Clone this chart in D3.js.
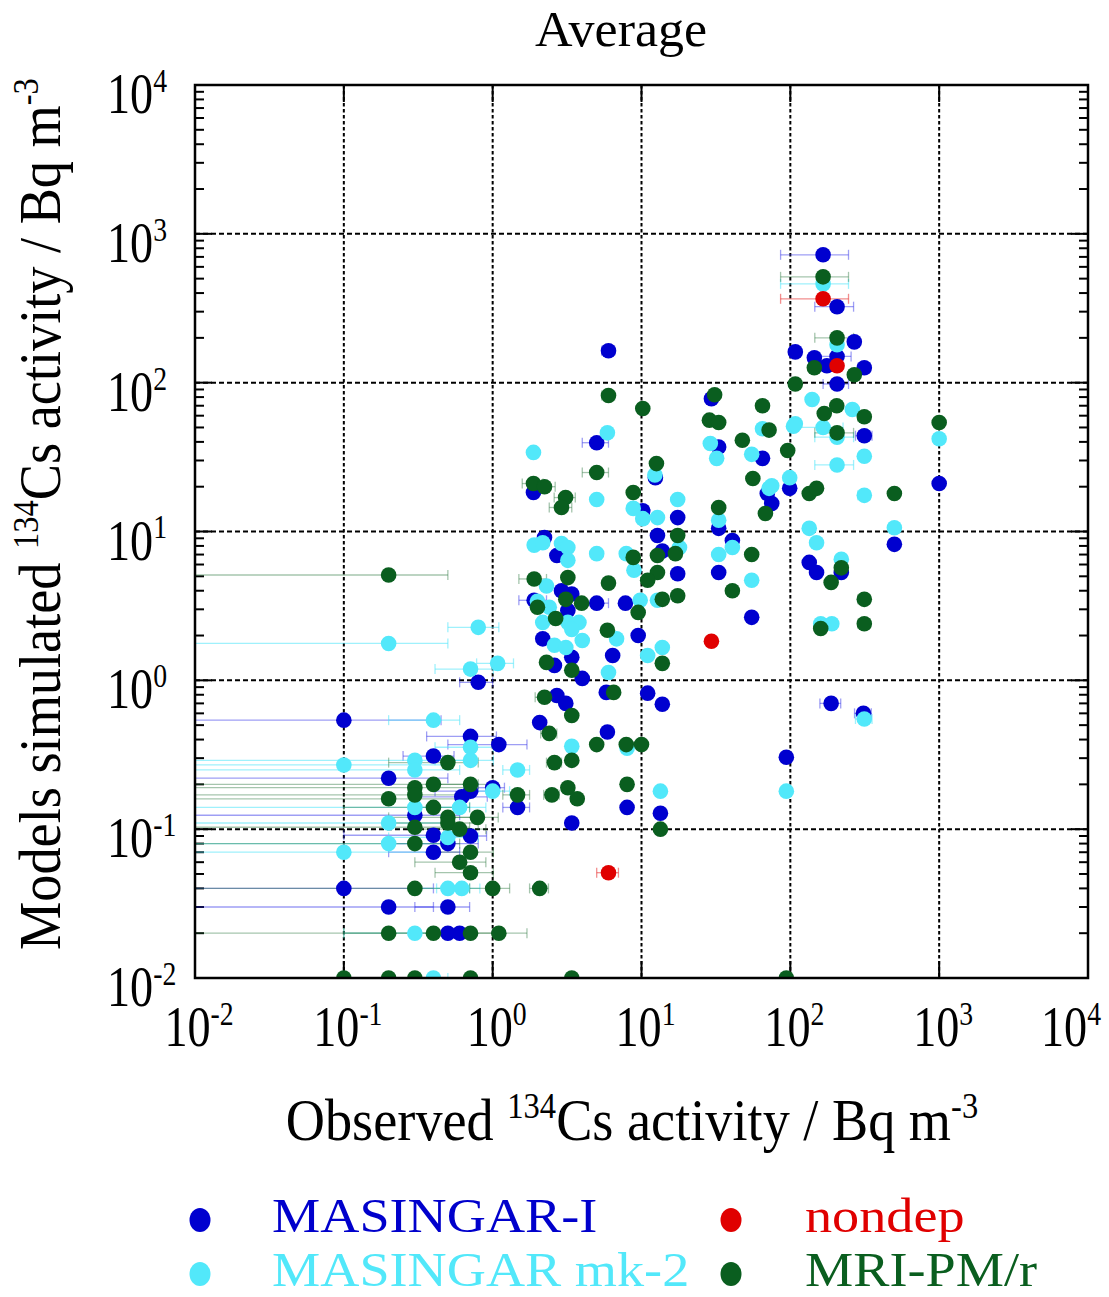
<!DOCTYPE html>
<html>
<head>
<meta charset="utf-8">
<title>Average</title>
<script src="https://d3js.org/d3.v7.min.js"></script>
<style>
body { margin: 0; background: #fff; }
svg text { font-family: "Liberation Serif", "Times New Roman", serif; }
</style>
</head>
<body>
<script>
// [observed, simulated, sd of observed]
var masingarI = [
  [0.1,0.54,0.35],[0.71,0.42,0.35],[1.1,0.37,0.6],[0.4,0.31,0.15],[0.2,0.22,0.3],[1.0,0.19,0.2],
  [0.62,0.165,0.3],[0.71,0.18,0.3],[0.3,0.124,0.3],[0.4,0.091,0.3],[0.5,0.08,0.3],[0.71,0.09,0.2],
  [0.4,0.07,0.2],[0.1,0.04,0.3],[0.2,0.03,0.2],[0.5,0.03,0.2],[0.5,0.02,0.1],[0.6,0.02,0.1],
  [0.8,0.97,0.2],[2.07,0.52,0],[1.47,0.14,0.3],[6.0,164,0.6],[29.5,78,0],[5.0,39.5,1],
  [1.88,18.3,0],[10.2,13.8,0],[17.5,12.4,0],[12.8,9.4,0],[13.8,7.4,0],[17.5,5.2,0],[7.8,3.3,0],
  [5.0,3.3,1],[9.5,2.0,0],[6.4,1.47,0],[5.8,0.83,0],[11,0.82,0],[13.8,0.69,0],[2.23,9.1,0],
  [2.7,6.9,0],[2.9,4.0,0],[1.9,3.45,0.4],[3.4,3.8,0],[3.2,2.95,0],[2.17,1.9,0],[3.4,1.43,0],
  [2.6,1.26,0],[4.0,1.03,0],[2.7,0.79,0],[3.1,0.7,0],[5.9,0.45,0],[3.4,0.11,0],[8,0.14,0],
  [13.4,0.128,0],[94,0.304,0],[99,19.5,0],[134,6.2,0],[150,5.3,0],[220,5.3,0],[188,0.7,30],
  [310,0.6,40],[1000,21,0],[500,8.2,0],[314,44,40],[166,723,80],[206,324,60],[269,188,0],
  [108,161,0],[145,147,0],[206,150,50],[176,130,0],[314,126,30],[206,98,40],[33,37,0],[65,31,0],
  [70,18,0],[75,15.4,0],[33,10.5,0],[40.8,8.7,0],[33,5.3,0],[55,2.65,0],[12.4,23,0]
];
var masingarMk2 = [
  [0.4,0.54,0.2],[0.71,0.355,0.3],[0.3,0.29,0.4],[0.71,0.29,0.3],[0.3,0.25,0.3],[1.47,0.25,0.3],
  [1.0,0.18,0.3],[0.3,0.14,0.4],[0.6,0.14,0.3],[0.2,0.11,0.3],[0.5,0.088,0.3],[0.2,0.08,0.3],
  [0.1,0.07,0.3],[0.5,0.04,0.2],[0.62,0.04,0.2],[0.3,0.02,0.2],[0.4,0.01,0.1],[0.1,0.27,0.4],
  [0.2,1.77,0.3],[0.8,2.27,0.3],[0.71,1.19,0.3],[1.08,1.3,0.3],[5.9,46,0],[1.88,34,0],
  [5.0,16.4,0],[8.8,14.3,0],[10.2,12.2,0],[17.5,16.4,0],[12.8,12.4,0],[18,7.8,0],[8.9,5.5,0],
  [12.8,3.45,0],[9.8,3.45,0],[13.8,1.66,0],[11,1.47,0],[6.0,1.13,0],[6.8,1.9,0],[1.9,8.1,0],
  [2.17,8.4,0],[2.9,8.3,0],[3.2,7.8,0],[3.2,6.4,0],[5.0,7.1,0],[7.9,7.1,0],[2.3,4.3,0],
  [2.0,3.4,0],[2.4,3.1,0],[2.17,2.45,0],[3.2,2.45,0],[3.8,2.45,0],[3.4,2.2,0],[2.6,1.72,0],
  [3.1,1.66,0],[4.0,1.85,0],[3.4,0.36,0],[8,0.35,0],[13.4,0.18,0],[94,0.18,0],[99,23,0],
  [105,51,0],[134,10.5,0],[150,8.4,0],[220,6.5,0],[160,2.4,0],[190,2.4,0],[314,0.55,40],
  [1000,42,0],[500,10.6,0],[261,66,0],[314,32,0],[206,28,60],[314,17.5,30],[166,461,80],
  [206,180,0],[140,77,0],[166,50,60],[206,43,60],[108,53,0],[29,39,0],[32,31,0],[55,33,0],
  [72,19.5,0],[75,20.3,0],[33,11.9,0],[40.8,7.8,0],[33,7.0,0],[55,4.7,0],[65,49,0],[12.3,24,0]
];
var nondep = [
  [166,366,80],[206,130,0],[29.5,1.83,0],[6.0,0.051,1]
];
var mriPM = [
  [0.5,0.28,0.3],[0.3,0.19,0.4],[0.4,0.2,0.4],[0.71,0.2,0.3],[0.2,0.16,0.4],[0.3,0.17,0.4],
  [0.4,0.14,0.3],[1.47,0.17,0.3],[2.5,0.17,0.3],[2.23,0.77,0.3],[2.4,0.44,0.3],[2.6,0.28,0.3],
  [0.3,0.103,0.4],[0.5,0.12,0.3],[0.5,0.11,0.3],[0.6,0.1,0.3],[0.79,0.12,0.3],[0.3,0.08,0.3],
  [0.71,0.07,0.3],[0.6,0.06,0.3],[0.71,0.051,0.3],[0.3,0.04,0.3],[1.0,0.04,0.3],[2.07,0.04,0.3],
  [0.2,0.02,0.3],[0.4,0.02,0.3],[0.71,0.02,0.3],[1.1,0.02,0.6],[0.1,0.01,0],[0.2,0.01,0],
  [0.3,0.01,0],[0.71,0.01,0],[3.4,0.01,0],[94,0.01,0],[0.2,5.1,0.3],[6.0,82,0.6],[10.2,67,0],
  [31,83,0],[65,70,0],[5.0,24.9,1],[1.88,21,0.3],[2.23,20,0.4],[3.09,16.9,0.5],[2.9,14.5,0.5],
  [8.8,18.3,0],[17.5,9.4,0],[16.9,7.1,0],[12.8,6.9,0],[8.8,6.7,0],[12.8,5.3,0],[11,4.7,0],
  [17.5,3.7,0],[13.8,3.5,0],[9.5,2.86,0],[6.0,4.5,0],[13.8,1.3,0],[6.5,0.83,0],[5.9,2.17,0],
  [1.9,4.8,0.4],[3.2,4.9,0],[2.0,3.1,0],[3.1,3.5,0],[3.96,3.3,0],[2.65,2.6,0],[2.3,1.32,0],
  [3.4,1.17,0],[3.4,0.58,0],[3.4,0.29,0],[3.2,0.19,0],[3.7,0.16,0],[7.9,0.37,0],[10,0.37,0],
  [5,0.37,0],[8,0.2,0],[13.4,0.1,0],[96,35,0],[134,18,0],[150,19.5,0],[188,4.55,0],[220,5.7,0],
  [160,2.23,0],[314,3.5,30],[314,2.4,30],[169,62,0],[205,70,0],[314,59,30],[206,46,60],
  [1000,54,0],[500,18,0],[166,514,80],[206,200,60],[145,126,0],[269,113,0],[108,98,0],
  [28.6,56,0],[33,54,0],[47.6,41,0],[56,22.7,0],[68,13.2,0],[33,14.5,0],[55,7.0,0],[40.8,4.0,0],
  [72,48,0],[12.6,28.6,0]
];
var decades = [-2, -1, 0, 1, 2, 3, 4];
var seriesNames = ["MASINGAR-I", "MASINGAR mk-2", "nondep", "MRI-PM/r"];

var W = 1109, H = 1297;
var pL = 195, pR = 1088, pB = 978, pT = 85;

var x = d3.scaleLog().domain([1e-2, 1e4]).range([pL, pR]);
var y = d3.scaleLog().domain([1e-2, 1e4]).range([pB, pT]);

var series = [
  {name: seriesNames[0], data: masingarI, fill: "#0000cf", bar: "rgba(40,40,230,0.45)", text: "#0000cc"},
  {name: seriesNames[1], data: masingarMk2, fill: "#52e8fa", bar: "rgba(80,230,250,0.55)", text: "#52e8fa"},
  {name: seriesNames[2], data: nondep, fill: "#e00000", bar: "rgba(230,30,30,0.5)", text: "#e00000"},
  {name: seriesNames[3], data: mriPM, fill: "#0a5e1f", bar: "rgba(30,110,50,0.4)", text: "#0a5e1f"}
];

var svg = d3.select("body").append("svg")
  .attr("width", W).attr("height", H);

svg.append("defs").append("clipPath").attr("id", "plotclip")
  .append("rect").attr("x", pL).attr("y", pT)
  .attr("width", pR - pL).attr("height", pB - pT);

// text with superscript parts; parts = [[string, isSup], ...]
function richText(g, px, py, parts, size, sx, anchor, rot, color) {
  var t = g.append("text")
    .attr("transform", "translate(" + px + "," + py + ") rotate(" + (rot || 0) + ") scale(" + sx + ",1)")
    .attr("text-anchor", anchor)
    .attr("font-size", size)
    .attr("fill", color || "#000");
  var up = false;
  parts.forEach(function(p) {
    var ts = t.append("tspan").text(p[0]);
    if (p[1] && !up) { ts.attr("font-size", size * 0.6).attr("dy", -size * 0.37); up = true; }
    else if (p[1]) { ts.attr("font-size", size * 0.6); }
    else if (up) { ts.attr("dy", size * 0.37); up = false; }
  });
  return t;
}

// grid
var grid = svg.append("g");
decades.slice(1, -1).forEach(function(d) {
  var v = Math.pow(10, d);
  grid.append("line").attr("x1", x(v)).attr("x2", x(v)).attr("y1", pT).attr("y2", pB)
    .attr("stroke", "#000").attr("stroke-width", 2).attr("stroke-dasharray", "3.5,2.5");
  grid.append("line").attr("x1", pL).attr("x2", pR).attr("y1", y(v)).attr("y2", y(v))
    .attr("stroke", "#000").attr("stroke-width", 2).attr("stroke-dasharray", "5,3");
});

// ticks
var ticks = svg.append("g").attr("stroke", "#000").attr("stroke-width", 2);
decades.forEach(function(d) {
  var v = Math.pow(10, d);
  ticks.append("line").attr("x1", x(v)).attr("x2", x(v)).attr("y1", pB).attr("y2", pB - 17);
  ticks.append("line").attr("x1", x(v)).attr("x2", x(v)).attr("y1", pT).attr("y2", pT + 17);
  ticks.append("line").attr("x1", pL).attr("x2", pL + 17).attr("y1", y(v)).attr("y2", y(v));
  ticks.append("line").attr("x1", pR).attr("x2", pR - 17).attr("y1", y(v)).attr("y2", y(v));
  if (d < 4) {
    for (var m = 2; m < 10; m++) {
      var mv = m * v;
      ticks.append("line").attr("x1", pL).attr("x2", pL + 9).attr("y1", y(mv)).attr("y2", y(mv));
      ticks.append("line").attr("x1", pR).attr("x2", pR - 9).attr("y1", y(mv)).attr("y2", y(mv));
    }
  }
});

// points with horizontal error bars
var plot = svg.append("g").attr("clip-path", "url(#plotclip)");
series.forEach(function(s) {
  var g = plot.append("g");
  var withErr = s.data.filter(function(d) { return d[2] > 0; });
  var lo = function(d) { return x(Math.max(d[0] - d[2], 1e-4)); };
  var hi = function(d) { return x(d[0] + d[2]); };
  var yy = function(d) { return y(d[1]); };
  g.selectAll("line.bar").data(withErr).enter().append("line")
    .attr("x1", lo).attr("x2", hi).attr("y1", yy).attr("y2", yy)
    .attr("stroke", s.bar).attr("stroke-width", 1.3);
  g.selectAll("line.capl").data(withErr).enter().append("line")
    .attr("x1", lo).attr("x2", lo).attr("y1", function(d) { return yy(d) - 5; }).attr("y2", function(d) { return yy(d) + 5; })
    .attr("stroke", s.bar).attr("stroke-width", 1.3);
  g.selectAll("line.caph").data(withErr).enter().append("line")
    .attr("x1", hi).attr("x2", hi).attr("y1", function(d) { return yy(d) - 5; }).attr("y2", function(d) { return yy(d) + 5; })
    .attr("stroke", s.bar).attr("stroke-width", 1.3);
});
series.forEach(function(s) {
  plot.append("g").selectAll("circle").data(s.data).enter().append("circle")
    .attr("cx", function(d) { return x(d[0]); })
    .attr("cy", function(d) { return y(d[1]); })
    .attr("r", 7.8)
    .attr("fill", s.fill);
});

// frame
svg.append("rect").attr("x", pL).attr("y", pT).attr("width", pR - pL).attr("height", pB - pT)
  .attr("fill", "none").attr("stroke", "#000").attr("stroke-width", 2.5);

// tick labels
var labels = svg.append("g");
decades.forEach(function(d) {
  var v = Math.pow(10, d);
  var parts = [["10", false], [String(d), true]];
  richText(labels, 107, y(v) + 28, parts, 57, 0.81, "start", 0);
  var cx = Math.min(x(v) + 4, W - 38);
  richText(labels, cx, 1046, parts, 57, 0.81, "middle", 0);
});

// titles
richText(svg, 621, 46, [["Average", false]], 50, 1.04, "middle", 0);
var yTitle = [["Models simulated ", false], ["134", true], ["Cs activity / Bq m", false], ["-3", true]];
richText(svg, 60, 514, yTitle, 59, 0.92, "middle", -90);
var xTitle = [["Observed ", false], ["134", true], ["Cs activity / Bq m", false], ["-3", true]];
richText(svg, 632, 1140, xTitle, 59, 0.92, "middle", 0);

// legend
var legend = svg.append("g");
var legPos = [[200, 272, 1232], [200, 272, 1286], [731, 805, 1232], [731, 805, 1286]];
series.forEach(function(s, i) {
  var p = legPos[i];
  legend.append("ellipse").attr("cx", p[0]).attr("cy", p[2] - 12).attr("rx", 10.5).attr("ry", 12).attr("fill", s.fill);
  richText(legend, p[1], p[2], [[s.name, false]], 48, 1.13, "start", 0, s.text);
});
</script>
</body>
</html>
